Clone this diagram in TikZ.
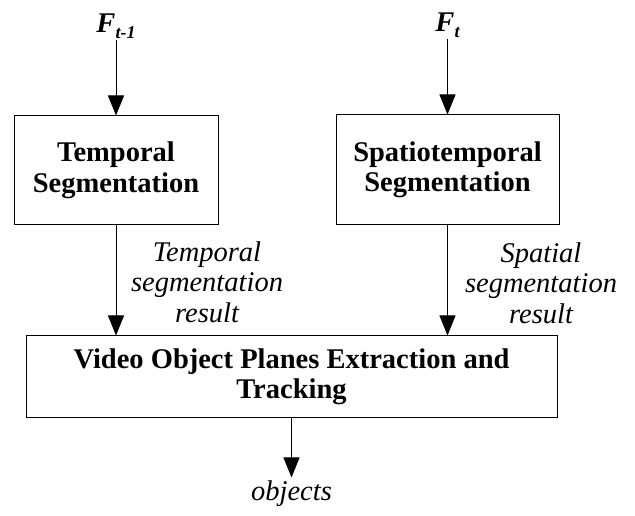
\documentclass[tikz,border=0pt]{standalone}
\usepackage{fontspec}
\setmainfont{Liberation Serif}
\usepackage{tikz}
\usetikzlibrary{positioning,arrows.meta}

\begin{document}
\begin{tikzpicture}[x=1pt, y=1pt,
    blocco/.style={draw, line width=1pt, align=center, inner sep=0pt, font=\fontsize{28.5}{30.5}\selectfont\bfseries},
    etichetta/.style={align=center, inner sep=0pt, font=\fontsize{28.5}{30.5}\selectfont\itshape},
    freccia/.style={-{Triangle[length=20pt, width=16pt]}, line width=0.9pt}]

    \useasboundingbox (0,0) rectangle (635,516);

    \node [blocco, minimum width=204pt, minimum height=109pt] (temp) at (116,345.5) {Temporal\\Segmentation};
    \node [blocco, minimum width=223pt, minimum height=110pt] (spat) at (447.5,346) {Spatiotemporal\\Segmentation};
    \node [blocco, minimum width=531pt, minimum height=82pt] (vop) at (291.5,139) {Video Object Planes Extraction and\\Tracking};

    \node [etichetta, above=75pt of temp, inner sep=2pt] (fprev) {\bfseries F\raisebox{-6pt}{\fontsize{18}{18}\selectfont t-1}};
    \node [etichetta, above=75pt of spat, inner sep=2pt] (fcur) {\bfseries F\raisebox{-6pt}{\fontsize{18}{18}\selectfont t}};
    \node [etichetta, below=59pt of vop, inner sep=3pt] (ogg) {objects};

    \node [etichetta] (restemp) at (207,234) {Temporal\\segmentation\\result};
    \node [etichetta] (resspat) at (541,233) {Spatial\\segmentation\\result};

    % frecce tra i blocchi
    \draw [freccia] (fprev) -- (temp);
    \draw [freccia] (fcur) -- (spat);
    \draw [freccia] (temp) -- (temp |- vop.north);
    \draw [freccia] (spat) -- (spat |- vop.north);
    \draw [freccia] (vop) -- (ogg);

\end{tikzpicture}
\end{document}
